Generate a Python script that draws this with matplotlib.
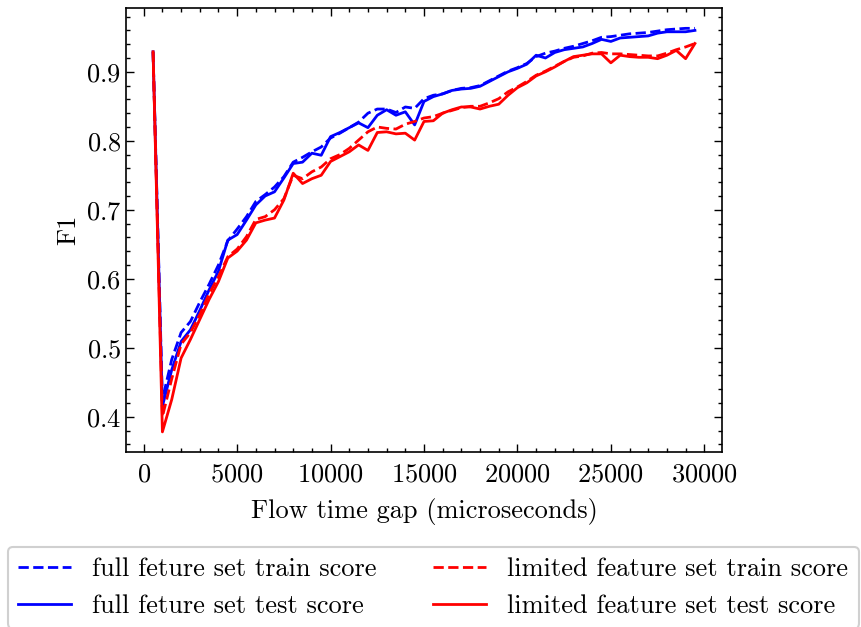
import matplotlib
matplotlib.use("Agg")
import matplotlib.pyplot as plt
from matplotlib.ticker import AutoMinorLocator

# Flow time gaps (microseconds)
gaps = [500, 1000, 1500, 2000, 2500, 3000, 3500, 4000, 4500, 5000,
        5500, 6000, 6500, 7000, 7500, 8000, 8500, 9000, 9500, 10000,
        10500, 11000, 11500, 12000, 12500, 13000, 13500, 14000, 14500, 15000,
        15500, 16000, 16500, 17000, 17500, 18000, 18500, 19000, 19500, 20000,
        20500, 21000, 21500, 22000, 22500, 23000, 23500, 24000, 24500, 25000,
        25500, 26000, 26500, 27000, 27500, 28000, 28500, 29000, 29500]

full_train = [0.929, 0.425, 0.483, 0.522, 0.538, 0.566, 0.592, 0.620, 0.655, 0.672,
              0.690, 0.712, 0.722, 0.733, 0.748, 0.769, 0.776, 0.784, 0.791, 0.804,
              0.811, 0.819, 0.827, 0.840, 0.846, 0.846, 0.841, 0.849, 0.847, 0.861,
              0.866, 0.868, 0.873, 0.876, 0.877, 0.880, 0.887, 0.894, 0.901, 0.906,
              0.912, 0.922, 0.927, 0.930, 0.934, 0.937, 0.941, 0.945, 0.950, 0.951,
              0.953, 0.955, 0.956, 0.957, 0.959, 0.961, 0.962, 0.963, 0.963]

full_test = [0.929, 0.415, 0.468, 0.509, 0.526, 0.554, 0.584, 0.611, 0.656, 0.664,
             0.685, 0.707, 0.720, 0.726, 0.746, 0.767, 0.769, 0.782, 0.779, 0.806,
             0.812, 0.819, 0.826, 0.819, 0.837, 0.845, 0.837, 0.842, 0.823, 0.857,
             0.864, 0.868, 0.873, 0.875, 0.876, 0.879, 0.886, 0.893, 0.900, 0.905,
             0.911, 0.924, 0.920, 0.928, 0.932, 0.934, 0.936, 0.941, 0.947, 0.944,
             0.949, 0.950, 0.951, 0.952, 0.956, 0.958, 0.958, 0.958, 0.960]

limited_train = [0.929, 0.400, 0.455, 0.505, 0.522, 0.548, 0.578, 0.603, 0.632, 0.643,
                 0.661, 0.686, 0.690, 0.700, 0.716, 0.750, 0.745, 0.755, 0.762, 0.774,
                 0.780, 0.789, 0.801, 0.813, 0.820, 0.818, 0.817, 0.824, 0.828, 0.833,
                 0.835, 0.840, 0.844, 0.848, 0.850, 0.850, 0.855, 0.861, 0.871, 0.878,
                 0.886, 0.895, 0.901, 0.908, 0.915, 0.921, 0.923, 0.927, 0.928, 0.926,
                 0.926, 0.925, 0.924, 0.923, 0.923, 0.927, 0.932, 0.936, 0.941]

limited_test = [0.929, 0.378, 0.425, 0.485, 0.512, 0.541, 0.570, 0.596, 0.630, 0.640,
                0.656, 0.681, 0.685, 0.688, 0.714, 0.753, 0.738, 0.745, 0.750, 0.770,
                0.777, 0.784, 0.794, 0.786, 0.812, 0.813, 0.810, 0.811, 0.801, 0.828,
                0.829, 0.840, 0.845, 0.849, 0.849, 0.846, 0.850, 0.853, 0.866, 0.877,
                0.884, 0.894, 0.900, 0.907, 0.915, 0.922, 0.924, 0.926, 0.926, 0.913,
                0.924, 0.922, 0.921, 0.921, 0.919, 0.924, 0.931, 0.919, 0.941]

series_labels = ["full feture set train score", "full feture set test score",
                 "limited feature set train score", "limited feature set test score"]

plt.rcParams.update({
    "font.family": "serif",
    "font.serif": ["cmr10"],
    "mathtext.fontset": "cm",
    "axes.formatter.use_mathtext": True,
    "font.size": 19,
    "axes.linewidth": 1.2,
    "xtick.direction": "in",
    "ytick.direction": "in",
    "xtick.top": True,
    "ytick.right": True,
    "xtick.major.size": 6,
    "ytick.major.size": 6,
    "xtick.minor.size": 3,
    "ytick.minor.size": 3,
    "xtick.major.width": 1.0,
    "ytick.major.width": 1.0,
    "xtick.minor.width": 1.0,
    "ytick.minor.width": 1.0,
    "xtick.minor.visible": True,
    "ytick.minor.visible": True,
})

fig = plt.figure(figsize=(8.61, 6.27), dpi=100)
ax = fig.add_axes([0.1463, 0.279, 0.6923, 0.708])

ax.plot(gaps, full_train, color="blue", ls="--", lw=2, label=series_labels[0])
ax.plot(gaps, full_test, color="blue", ls="-", lw=2, label=series_labels[1])
ax.plot(gaps, limited_train, color="red", ls="--", lw=2, label=series_labels[2])
ax.plot(gaps, limited_test, color="red", ls="-", lw=2, label=series_labels[3])

ax.xaxis.set_minor_locator(AutoMinorLocator(5))
ax.yaxis.set_minor_locator(AutoMinorLocator(5))
ax.tick_params(axis="x", pad=8)
ax.set_xlabel("Flow time gap (microseconds)", labelpad=8)
ax.set_ylabel("F1")

leg = ax.legend(ncol=2, loc="upper left", bbox_to_anchor=(0.009, 0.128),
                bbox_transform=fig.transFigure, borderaxespad=0,
                frameon=True, fancybox=True, framealpha=1.0,
                handlelength=2.0, columnspacing=2.15, labelspacing=0.5)
leg.get_frame().set_edgecolor("#d0d0d0")
leg.get_frame().set_linewidth(1.5)

fig.savefig("out.png", dpi=100)
